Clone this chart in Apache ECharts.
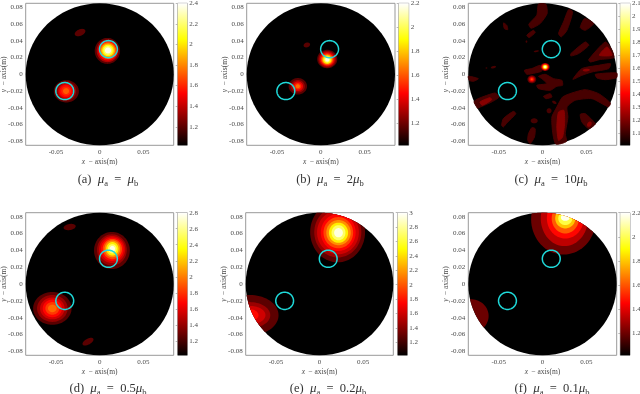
<!DOCTYPE html>
<html>
<head>
<meta charset="utf-8">
<style>
    html, body { margin: 0; padding: 0; background: #fff; }
    #main { width: 640px; height: 394px; }
</style>
<script src="https://cdn.jsdelivr.net/npm/echarts@6/dist/echarts.min.js"></script>
</head>
<body>
<div id="main"></div>
<script>
// all contour geometry is in mm
// rings: [cx, cy, rx, ry, rotation deg, level]
const ringsA = [
    [-22.5, 49.8, 6.5, 3.8, 25, 1.2],
    [8.8, 27.9, 14.5, 15.5, 0, 1.2], [9, 28, 12.5, 13.5, 0, 1.37], [9.3, 28.2, 11, 11.7, 0, 1.53],
    [9.5, 28.3, 9.5, 10, 0, 1.71], [9.5, 28.5, 8, 8.3, 0, 1.88], [9.5, 28.5, 6.5, 6.8, 0, 2.06],
    [9.5, 28.5, 5, 5.2, 0, 2.19], [9.5, 28.5, 3.5, 3.5, 0, 2.36],
    [-38.2, -20.3, 14.3, 13.3, 0, 1.2], [-38.5, -20, 11.5, 11.5, 0, 1.32], [-38.5, -20, 9, 9, 0, 1.43],
    [-38.5, -20, 7.5, 7.5, 0, 1.53], [-38.5, -20, 5.5, 5.5, 0, 1.6], [-38.5, -20, 3.5, 3.5, 0, 1.71]
]
const ringsB = [
    [-16, 35, 3.8, 2.8, 20, 1.17],
    [7.3, 18.2, 11.5, 11, 0, 1.17], [7.3, 18, 10, 9.8, 0, 1.28], [7.3, 18, 8.6, 8.4, 0, 1.41],
    [7.3, 17.8, 7.2, 7, 0, 1.55], [7.3, 17.7, 6, 5.8, 0, 1.7], [7.3, 17.5, 4.8, 4.8, 0, 1.87],
    [7.3, 17.5, 3.4, 3.4, 0, 2.02], [7.3, 17.5, 2.2, 2.2, 0, 2.16],
    [-26.3, -14.3, 10.5, 9.8, 0, 1.17], [-26.3, -14.3, 8, 7.5, 0, 1.28], [-26.3, -14.3, 6, 5.7, 0, 1.41],
    [-26.3, -14.3, 4, 3.8, 0, 1.52], [-26.3, -14.3, 2.4, 2.4, 0, 1.63]
]
const ringsC = [
    [-18.3, 39, 1, 1.4, 0, 1.12], [-7, 27.5, 3, 1, 10, 1.12], [-56, 8.5, 3, 1.4, 15, 1.12],
    [-64, 7.5, 1, 1, 0, 1.1], [13.5, -33.5, 2.8, 1.6, -35, 1.12], [7.5, -43.5, 2.8, 3, 0, 1.12],
    [-9.5, -55.5, 4, 3, 0, 1.12], [50, 5, 4, 1.6, 5, 1.22], [53.5, -59.5, 2.4, 3.4, -30, 1.22],
    [3, 8.8, 5.2, 4.8, 0, 1.2], [3, 8.8, 4.2, 4, 0, 1.4], [3, 8.8, 3.2, 3, 0, 1.6],
    [3, 8.8, 2.4, 2.3, 0, 1.8], [3, 8.8, 1.5, 1.5, 0, 2], [3, 8.8, 0.8, 0.8, 0, 2.08],
    [-12.2, -6, 5, 4.8, 0, 1.15], [-12.2, -6, 3.8, 3.6, 0, 1.25], [-12.2, -6, 2.8, 2.7, 0, 1.35],
    [-12.2, -6, 1.8, 1.8, 0, 1.45], [-12.2, -6, 0.9, 0.9, 0, 1.55]
]
const ringsD = [
    [-34.4, 67.7, 7, 3.6, 10, 1.25], [-13.4, -68.5, 7, 3.4, 30, 1.25],
    [14, 39.8, 20.5, 22, 0, 1.25], [14, 40.5, 17, 18.5, 0, 1.41], [14.2, 41, 15, 16, 0, 1.55],
    [14.4, 41.3, 13, 14, 0, 1.68], [14.5, 41.5, 11, 12, 0, 1.86], [14.5, 41.8, 9, 10, 0, 2.05],
    [14.5, 41.8, 7, 8, 0, 2.3], [14.5, 41.8, 5, 5.5, 0, 2.53], [14.5, 41.8, 3, 3.5, 0, 2.75],
    [-54.2, -29, 22, 19.5, 0, 1.25], [-54.2, -29, 17.5, 16, 0, 1.41], [-54.2, -29, 14, 13, 0, 1.55],
    [-54.2, -29, 11, 10.5, 0, 1.68], [-54.2, -29, 8, 7.5, 0, 1.82], [-54.2, -29, 5, 4.5, 0, 1.95]
]
const ringsE = [
    [20.8, 61.7, 31.5, 36, 0, 1.28], [21, 61.5, 27, 30, 0, 1.46], [21.2, 61.3, 24, 26, 0, 1.61],
    [21.5, 61.2, 20, 22, 0, 1.75], [21.6, 61, 17, 18.5, 0, 1.95], [21.8, 61, 14, 15, 0, 2.17],
    [21.8, 60.9, 11, 12, 0, 2.45], [21.8, 60.9, 8, 9, 0, 2.7], [21.8, 60.9, 5, 5.5, 0, 2.94],
    [-80, -37, 33, 24, 0, 1.28], [-80, -37, 23.5, 15.5, 0, 1.46], [-80, -37, 18, 11, 0, 1.61],
    [-80, -37, 10, 7, 0, 1.77]
]
const ringsF = [
    [24, 77, 37, 42, 0, 1.2], [25, 78, 27, 33, 0, 1.34], [26, 78, 21, 24, 0, 1.46],
    [26, 78, 15.5, 18, 0, 1.61], [26, 78, 11.5, 12, 0, 1.8], [26, 78, 8, 8, 0, 1.98],
    [26, 79, 5, 4, 0, 2.18],
    [-82, -38, 20.5, 20, 0, 1.2]
]
// irregular patches of panel c: [level, [x, y], [x, y], ...]
const patchesC = [
    [1.12, [-4.6, 83.6], [3.8, 83.6], [5.3, 72.5], [-2.7, 60.5], [-13, 54.9], [-15.6, 59.7], [-6.5, 70.5]],
    [1.12, [29.8, 77.2], [34.4, 74.4], [27.9, 52.5], [21.4, 44.6], [18.3, 48.6], [24, 62.5]],
    [1.12, [-44.5, 61.3], [-40.8, 58.5], [-39.7, 53.3], [-43.5, 54.5]],
    [1.12, [-17.9, 46.6], [-10.3, 52.5], [-8.4, 49.8], [-15.3, 43.8]],
    [1.12, [48.1, 66.5], [58.4, 60.5], [48.9, 52.5], [43.1, 55.7]],
    [1.12, [32.4, 24.7], [48.9, 38.6], [52.9, 34.6], [41.2, 24.7], [32.4, 21.9]],
    [1.12, [52.7, 17.5], [71.8, 38.6], [79.4, 28.7], [81.3, 19.9], [64.9, 17.5], [54.6, 14.7]],
    [1.22, [64.9, 22.7], [73.7, 32.6], [79.4, 22.7]],
    [1.12, [-20.6, 4.8], [-12.2, 6.8], [-2.7, 10.7], [-0.8, 4], [-8.4, 1.6], [-17.9, 0]],
    [1.12, [34.7, -6], [45, 6.8], [64.1, 10.7], [77.5, 12.7], [75.6, 6.8], [56.5, 2.8], [45, -1.2]],
    [1.12, [60.3, 0], [85, 1.6], [85, -4], [71.8, -6.4], [62.2, -4.4]],
    [1.12, [-84.7, -2.4], [-73.3, -5.2], [-79, -8.4], [-83.6, -7.2]],
    [1.12, [-4.6, -2.4], [3.1, 0], [12.6, -5.2], [22.1, -7.2], [22.9, -13.1], [16.4, -14.3], [8.8, -19.1], [-4.6, -17.1], [-6.5, -13.1], [5, -11.1], [-0.8, -5.2]],
    [1.12, [1.1, -26.3], [8.8, -23.1], [10.7, -27.1], [3.8, -29.1]],
    [1.12, [15.3, -83.6], [11.8, -70.9], [10.7, -51], [16.4, -39], [22.9, -27.1], [33.6, -22.3], [48.9, -18.3], [64.1, -23.1], [79.4, -35], [75.6, -39], [56.5, -29.1], [37.4, -31], [27.9, -39], [29, -51], [26, -70.9], [27.9, -82]],
    [1.22, [18.3, -45], [24.4, -43], [25.2, -58.9], [22.9, -74.8], [18.3, -78.8], [16.4, -62.9]],
    [1.12, [43.1, -47.8], [48.9, -47], [60.3, -58.9], [61, -66.1], [52.7, -64.9], [45, -56.9]],
    [1.12, [-46.6, -60.9], [-44.7, -52.9], [-33.2, -44.2], [-30.5, -47], [-40.8, -58.1], [-44.7, -62.9]],
    [1.12, [-16, -70.9], [-12.2, -63.7], [-8.4, -64.9], [-9.2, -74.8], [-14.1, -82.8], [-16.8, -78.8]],
    [1.12, [-83.6, -35], [-73.3, -29], [-54.2, -22.3], [-49.6, -27.1], [-58, -33], [-75.2, -41], [-80.9, -43]],
    [1.22, [-71.4, -33], [-59.9, -27.9], [-58, -30.3], [-68.7, -37]]
]
const targets = [[10, 30, 10.2], [-40, -20, 10.2]]

const xTicks = [-0.05, 0, 0.05]
const yTicks = [-0.08, -0.06, -0.04, -0.02, 0, 0.02, 0.04, 0.06, 0.08]
const barRangeA = [1.02, 2.4]
const barRangeB = [1.02, 2.2]
const barRangeC = [1.01, 2.1]
const barRangeD = [1.02, 2.8]
const barRangeE = [1.02, 3]
const barRangeF = [1.02, 2.2]
const barTicksA = [1.2, 1.4, 1.6, 1.8, 2, 2.2, 2.4]
const barTicksB = [1.2, 1.4, 1.6, 1.8, 2, 2.2]
const barTicksC = [1.1, 1.2, 1.3, 1.4, 1.5, 1.6, 1.7, 1.8, 1.9, 2, 2.1]
const barTicksD = [1.2, 1.4, 1.6, 1.8, 2, 2.2, 2.4, 2.6, 2.8]
const barTicksE = [1.2, 1.4, 1.6, 1.8, 2, 2.2, 2.4, 2.6, 2.8, 3]
const barTicksF = [1.2, 1.4, 1.6, 1.8, 2, 2.2]

const DISC_MM = 84.7
const FONT = '"Liberation Serif", serif'
const GREY = '#999999'
const TEXT = '#4a4a4a'

const panels = [
    { tag: '(a)', cap: ['', 'a', '', 'b'], rings: ringsA, patches: [], range: barRangeA, ticks: barTicksA, box: [25.7, 3.3, 173.7, 145.3], bar: [177.7, 187.3], capX: 108, capY: 172 },
    { tag: '(b)', cap: ['', 'a', '2', 'b'], rings: ringsB, patches: [], range: barRangeB, ticks: barTicksB, box: [246.7, 3.3, 395, 145.3], bar: [398.7, 408.7], capX: 330, capY: 172 },
    { tag: '(c)', cap: ['', 'a', '10', 'b'], rings: ringsC, patches: patchesC, range: barRangeC, ticks: barTicksC, box: [468.3, 3.3, 616.7, 145.3], bar: [620.3, 630], capX: 551, capY: 172 },
    { tag: '(d)', cap: ['', 'a', '0.5', 'b'], rings: ringsD, patches: [], range: barRangeD, ticks: barTicksD, box: [25.7, 212.7, 173.7, 355.3], bar: [177.7, 187.3], capX: 108, capY: 381 },
    { tag: '(e)', cap: ['', 'a', '0.2', 'b'], rings: ringsE, patches: [], range: barRangeE, ticks: barTicksE, box: [245.7, 212.7, 393.3, 355.3], bar: [397.7, 407.3], capX: 328, capY: 381 },
    { tag: '(f)', cap: ['', 'a', '0.1', 'b'], rings: ringsF, patches: [], range: barRangeF, ticks: barTicksF, box: [468.3, 212.7, 616.7, 355.3], bar: [620.3, 630], capX: 552, capY: 381 }
]

// matlab "hot"
function hot(t) {
    const c = v => Math.round(255 * Math.max(0, Math.min(1, v)))
    return `rgb(${c(t / 0.365)},${c((t - 0.365) / 0.381)},${c((t - 0.746) / 0.254)})`
}

function clampToDisc(x, y) {
    const r = Math.hypot(x, y)
    if (r <= DISC_MM) return [x / 1000, y / 1000]
    return [x / r * DISC_MM / 1000, y / r * DISC_MM / 1000]
}

function ellipsePoints(api, cx, cy, rx, ry, rot) {
    const pts = []
    const a = rot * Math.PI / 180
    for (let k = 0; k < 72; k++) {
        const th = k / 72 * Math.PI * 2
        const ex = rx * Math.cos(th)
        const ey = ry * Math.sin(th)
        const p = clampToDisc(cx + ex * Math.cos(a) - ey * Math.sin(a), cy + ex * Math.sin(a) + ey * Math.cos(a))
        pts.push(api.coord(p))
    }
    return pts
}

const grid = []
const xAxis = []
const yAxis = []
const series = []
const title = []

const capRich = {
    n: { fontFamily: FONT, fontSize: 12.5, fontWeight: 'normal', color: '#333', lineHeight: 16 },
    i: { fontFamily: FONT, fontSize: 13, fontWeight: 'normal', fontStyle: 'italic', color: '#333', lineHeight: 16 },
    s: { fontFamily: FONT, fontSize: 8.5, fontWeight: 'normal', color: '#333', lineHeight: 16, verticalAlign: 'bottom' }
}
const nameRich = {
    n: { fontFamily: FONT, fontSize: 7.5, color: TEXT },
    i: { fontFamily: FONT, fontSize: 7.5, fontStyle: 'italic', color: TEXT }
}

function addPanel(p) {
    const [x0, y0, x1, y1] = p.box
    const [lo, hi] = p.range
    const span = hi - lo
    const g = grid.length
    const xi = xAxis.length
    const yi = yAxis.length
    const tickStyle = { show: true, inside: true, length: 2, lineStyle: { color: GREY, width: 0.7 } }
    const label = { fontFamily: FONT, fontSize: 7, color: TEXT, margin: 3, hideOverlap: false, showMinLabel: true, showMaxLabel: true }

    // outerBoundsMode off, v6 otherwise shrinks the grid to keep labels on the canvas
    grid.push({ left: x0, top: y0, width: x1 - x0, height: y1 - y0, show: true, borderColor: GREY, borderWidth: 1, backgroundColor: '#fff', outerBoundsMode: 'none' })
    xAxis.push({
        gridIndex: g, type: 'value', min: -DISC_MM / 1000, max: DISC_MM / 1000, position: 'bottom', splitLine: { show: false },
        axisLine: { show: false },
        axisTick: { ...tickStyle, customValues: xTicks },
        axisLabel: { ...label, customValues: xTicks, formatter: v => String(v) },
        name: '{i|x} {n|− axis(m)}', nameLocation: 'middle', nameGap: 11, nameMoveOverlap: false, nameTextStyle: { rich: nameRich }
    })
    yAxis.push({
        gridIndex: g, type: 'value', min: -DISC_MM / 1000, max: DISC_MM / 1000, position: 'left', splitLine: { show: false },
        axisLine: { show: false },
        axisTick: { ...tickStyle, customValues: yTicks },
        axisLabel: { ...label, customValues: yTicks, formatter: v => String(v) },
        name: '{i|y} {n|− axis(m)}', nameLocation: 'middle', nameGap: 16, nameMoveOverlap: false, nameTextStyle: { rich: nameRich }
    })
    // box ticks on the far sides
    xAxis.push({
        gridIndex: g, type: 'value', min: -DISC_MM / 1000, max: DISC_MM / 1000, position: 'top', splitLine: { show: false },
        axisLine: { show: false }, axisLabel: { show: false }, axisTick: { ...tickStyle, customValues: xTicks }
    })
    yAxis.push({
        gridIndex: g, type: 'value', min: -DISC_MM / 1000, max: DISC_MM / 1000, position: 'right', splitLine: { show: false },
        axisLine: { show: false }, axisLabel: { show: false }, axisTick: { ...tickStyle, customValues: yTicks }
    })

    const axes = { xAxisIndex: xi, yAxisIndex: yi, silent: true, clip: false, animation: false }
    series.push({
        type: 'custom', ...axes, data: [[0, 0, DISC_MM]],
        renderItem: (params, api) => ({
            type: 'polygon',
            shape: { points: ellipsePoints(api, api.value(0), api.value(1), api.value(2), api.value(2), 0) },
            style: { fill: '#000' }
        })
    })
    if (p.patches.length) {
        series.push({
            type: 'custom', ...axes, data: p.patches.map((q, i) => [i, q[0]]),
            renderItem: (params, api) => {
                const q = p.patches[params.dataIndex]
                const color = hot((api.value(1) - lo) / span)
                return {
                    type: 'polygon',
                    shape: { points: q.slice(1).map(pt => api.coord(clampToDisc(pt[0], pt[1]))), smooth: 0.2 },
                    style: { fill: color, stroke: color, lineWidth: 1 }
                }
            }
        })
    }
    series.push({
        type: 'custom', ...axes, data: p.rings,
        renderItem: (params, api) => ({
            type: 'polygon',
            shape: { points: ellipsePoints(api, api.value(0), api.value(1), api.value(2), api.value(3), api.value(4)) },
            style: { fill: hot((api.value(5) - lo) / span) }
        })
    })
    series.push({
        type: 'custom', ...axes, data: targets,
        renderItem: (params, api) => ({
            type: 'polygon',
            shape: { points: ellipsePoints(api, api.value(0), api.value(1), api.value(2), api.value(2), 0) },
            style: { fill: 'none', stroke: '#1fdada', lineWidth: 1.5 }
        })
    })

    // colorbar
    grid.push({ left: p.bar[0], top: y0, width: p.bar[1] - p.bar[0], height: y1 - y0, show: true, borderColor: GREY, borderWidth: 1, outerBoundsMode: 'none' })
    xAxis.push({ gridIndex: g + 1, type: 'value', min: 0, max: 1, show: false })
    yAxis.push({
        gridIndex: g + 1, type: 'value', min: lo, max: hi, position: 'right', splitLine: { show: false },
        axisLine: { show: false },
        axisTick: { ...tickStyle, customValues: p.ticks },
        axisLabel: { ...label, margin: 2, customValues: p.ticks, formatter: v => String(v) }
    })
    series.push({
        type: 'custom', xAxisIndex: xAxis.length - 1, yAxisIndex: yAxis.length - 1, silent: true, animation: false,
        data: [[lo, hi]],
        renderItem: (params, api) => {
            const a = api.coord([0, api.value(1)])
            const b = api.coord([1, api.value(0)])
            const stops = [0, 0.1, 0.2, 0.3, 0.365, 0.5, 0.65, 0.746, 0.85, 1].map(t => ({ offset: 1 - t, color: hot(t) })).reverse()
            return {
                type: 'rect',
                shape: { x: a[0], y: a[1], width: b[0] - a[0], height: b[1] - a[1] },
                style: { fill: new echarts.graphic.LinearGradient(0, 0, 0, 1, stops) }
            }
        }
    })

    const [, s1, k, s2] = p.cap
    title.push({
        text: `{n|${p.tag}  }{i|μ}{s|${s1}}{n|  =  ${k}}{i|μ}{s|${s2}}`,
        left: p.capX, top: p.capY, textAlign: 'center', padding: 0,
        textStyle: { fontWeight: 'normal', rich: capRich }
    })
}

panels.forEach(addPanel)

const chart = echarts.init(document.getElementById('main'), null, { renderer: 'canvas' })
chart.setOption({ animation: false, backgroundColor: '#fff', title, grid, xAxis, yAxis, series })
</script>
</body>
</html>
